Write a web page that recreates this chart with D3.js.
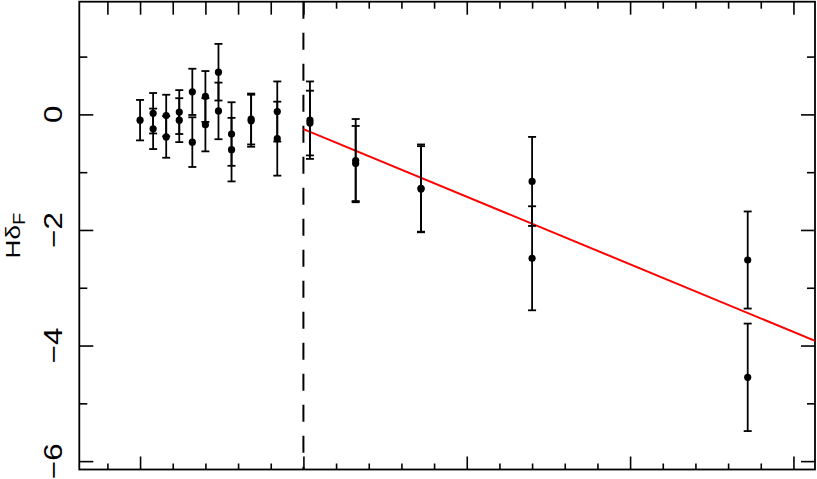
<!DOCTYPE html>
<html>
<head>
<meta charset="utf-8">
<script src="https://cdn.jsdelivr.net/npm/d3@7"></script>
<style>
  body { margin: 0; background: #fff; }
  svg { display: block; }
  .domain { display: none; }
  .tick line { stroke: #000; stroke-width: 1.6; }
  text { font-family: "Liberation Sans", Arial, sans-serif; fill: #000; }
</style>
</head>
<body>
<svg width="817" height="479"></svg>
<script>
// x position of each measurement (two per column mostly)
var xVals = [0,
	0.4, 0.4, 0.8, 0.8, 1.2, 1.2, 1.6, 1.6, 2.0, 2.0, 2.4, 2.4, 2.8, 2.8,
	3.4, 3.4, 4.2, 4.2, 5.2, 5.2, 6.6, 6.6, 8.6, 8.6, 12.0, 12.0, 18.6, 18.6];
var yVals = [-0.10,
	0.02, -0.25, -0.02, -0.39, 0.04, -0.10, 0.39, -0.48, 0.31, -0.18, 0.73, 0.06, -0.34, -0.61,
	-0.08, -0.11, 0.05, -0.42, -0.10, -0.15, -0.80, -0.85, -1.28, -1.29, -1.16, -2.49, -2.52, -4.55];
var errVals = [0.35,
	0.35, 0.35, 0.36, 0.36, 0.38, 0.38, 0.40, 0.43, 0.44, 0.46, 0.49, 0.49, 0.55, 0.55,
	0.44, 0.45, 0.52, 0.64, 0.67, 0.56, 0.72, 0.65, 0.76, 0.74, 0.77, 0.90, 0.84, 0.93];

// fitted line, starts at the break
var breakX = 5;
var fitIntercept = -0.254;   // value at breakX
var fitSlope = -0.234;

var yTicks = [-6, -5, -4, -3, -2, -1, 0, 1];
var yLabels = [-6, -4, -2, 0];
var xMajor = [0, 5, 10, 15, 20];
var xMinor = [-1, 1, 2, 3, 4, 6, 7, 8, 9, 11, 12, 13, 14, 16, 17, 18, 19];

// note: "top" is taken by window.top, so use box* names
var svg = d3.select("svg"),
	boxL = 79.3, boxR = 815, boxT = 1.7, boxB = 469.5,
	stretch = 1.25;   // text in the picture is drawn a bit wide

var x = d3.scaleLinear().domain([-1.86, 20.66]).range([boxL, boxR]);
var y = d3.scaleLinear().domain([-6.145, 1.95]).range([boxB, boxT]);

var data = xVals.map(function(d, i) {
	return {x: d, y: yVals[i], e: errVals[i]};
});

// ** AXES ** ticks point inward on all four sides
function tickAxis(axisFn, scale, vals, len, tx) {
	svg.append("g")
		.attr("transform", tx)
		.call(axisFn(scale).tickValues(vals).tickSize(-len).tickFormat(""));
}
var even = function(d) { return d % 2 === 0; },
	odd = function(d) { return d % 2 !== 0; };
tickAxis(d3.axisLeft, y, yTicks.filter(even), 14, "translate(" + boxL + ",0)");
tickAxis(d3.axisLeft, y, yTicks.filter(odd), 8, "translate(" + boxL + ",0)");
tickAxis(d3.axisRight, y, yTicks.filter(even), 14, "translate(" + boxR + ",0)");
tickAxis(d3.axisRight, y, yTicks.filter(odd), 8, "translate(" + boxR + ",0)");

tickAxis(d3.axisBottom, x, xMajor, 13, "translate(0," + boxB + ")");
tickAxis(d3.axisBottom, x, xMinor, 6, "translate(0," + boxB + ")");
// top: left part all long, right part major/minor
tickAxis(d3.axisTop, x, xMajor.concat(xMinor.filter(function(d) { return d < breakX; })), 13, "translate(0," + boxT + ")");
tickAxis(d3.axisTop, x, xMinor.filter(function(d) { return d > breakX; }), 7, "translate(0," + boxT + ")");

// y labels, parallel to axis
svg.selectAll(".ylab")
	.data(yLabels)
	.enter().append("text")
		.attr("class", "ylab")
		.attr("transform", function(d) {
			return "translate(62," + y(d) + ") rotate(-90) scale(" + stretch + ",1)"; })
		.attr("text-anchor", "middle")
		.style("font-size", "25px")
		.text(function(d) { return d < 0 ? "\u2212" + Math.abs(d) : d; });

var title = svg.append("text")
	.attr("transform", "translate(19.5," + ((boxT + boxB) / 2) + ") rotate(-90) scale(" + stretch + ",1)")
	.attr("text-anchor", "middle")
	.style("font-size", "21px");
title.append("tspan").text("H\u03b4");
title.append("tspan").attr("dy", 5).style("font-size", "16px").text("F");

// box
svg.append("rect")
	.attr("x", boxL).attr("y", boxT)
	.attr("width", boxR - boxL).attr("height", boxB - boxT)
	.attr("fill", "none").attr("stroke", "#000").attr("stroke-width", 1.8);

// break line
svg.append("line")
	.attr("x1", x(breakX)).attr("x2", x(breakX))
	.attr("y1", boxT).attr("y2", boxB)
	.attr("stroke", "#000").attr("stroke-width", 2)
	.attr("stroke-dasharray", "17,14");

// fit line, clipped to the box
svg.append("clipPath").attr("id", "box")
	.append("rect").attr("x", boxL).attr("y", boxT)
	.attr("width", boxR - boxL).attr("height", boxB - boxT);

var xEnd = x.domain()[1];
svg.append("line")
	.attr("clip-path", "url(#box)")
	.attr("x1", x(breakX)).attr("y1", y(fitIntercept))
	.attr("x2", x(xEnd)).attr("y2", y(fitIntercept + fitSlope * (xEnd - breakX)))
	.attr("stroke", "#ff0000").attr("stroke-width", 2);

// ** ERROR BARS **
var bars = svg.selectAll("g.bar")
	.data(data)
	.enter().append("g")
		.attr("class", "bar")
		.attr("stroke", "#000")
		.attr("stroke-width", 1.8);

bars.append("line")
	.attr("x1", function(d) { return x(d.x); })
	.attr("x2", function(d) { return x(d.x); })
	.attr("y1", function(d) { return y(d.y + d.e); })
	.attr("y2", function(d) { return y(d.y - d.e); });

[1, -1].forEach(function(s) {
	bars.append("line")
		.attr("x1", function(d) { return x(d.x) - 4; })
		.attr("x2", function(d) { return x(d.x) + 4; })
		.attr("y1", function(d) { return y(d.y + s * d.e); })
		.attr("y2", function(d) { return y(d.y + s * d.e); });
});

svg.selectAll("circle.pt")
	.data(data)
	.enter().append("circle")
		.attr("class", "pt")
		.attr("cx", function(d) { return x(d.x); })
		.attr("cy", function(d) { return y(d.y); })
		.attr("r", 3.6)
		.attr("fill", "#000");
</script>
</body>
</html>
